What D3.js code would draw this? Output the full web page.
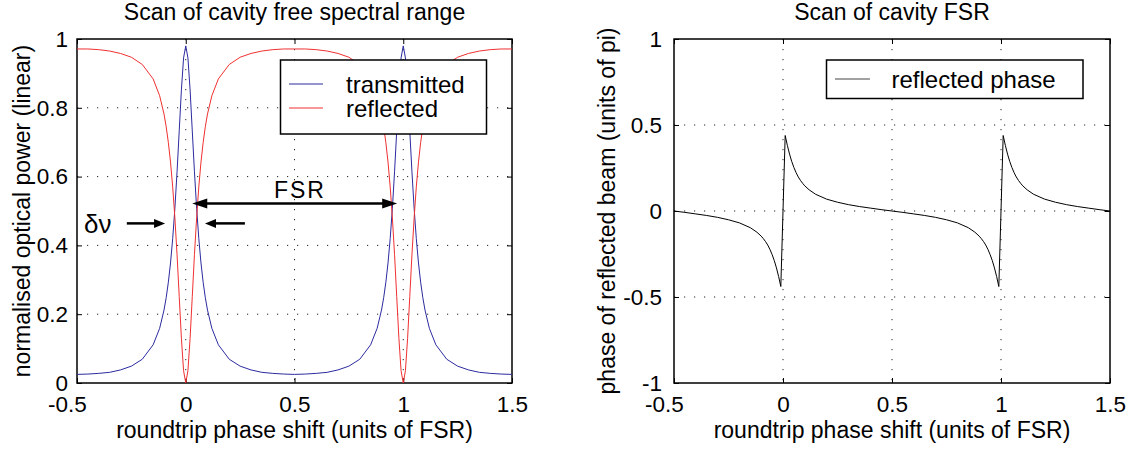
<!DOCTYPE html>
<html><head><meta charset="utf-8">
<script src="https://cdn.jsdelivr.net/npm/d3@7"></script>
<style>
body{margin:0;background:#fff;}
svg text{font-family:"Liberation Sans",Arial,Helvetica,sans-serif;fill:#000;}
</style>
</head><body>
<svg id="chart" width="1148" height="450"></svg>
<script>
// ---------------- data ----------------
const phaseShift = [-0.5,-0.45,-0.4,-0.35,-0.3,-0.25,-0.2,-0.15,-0.12,-0.1,-0.09,-0.08,-0.07,-0.06,-0.05,-0.04,-0.03,-0.02,-0.01,0,
  0.01,0.02,0.03,0.04,0.05,0.06,0.07,0.08,0.09,0.1,0.12,0.15,0.2,0.25,0.3,0.35,0.4,0.45,0.5,
  0.55,0.6,0.65,0.7,0.75,0.8,0.85,0.88,0.9,0.91,0.92,0.93,0.94,0.95,0.96,0.97,0.98,0.99,1,
  1.01,1.02,1.03,1.04,1.05,1.06,1.07,1.08,1.09,1.1,1.12,1.15,1.2,1.25,1.3,1.35,1.4,1.45,1.5];
const transmitted = [0.025,0.026,0.028,0.031,0.038,0.049,0.069,0.111,0.159,0.212,0.248,0.293,0.349,0.420,0.508,0.614,0.733,0.852,0.945,0.980,
  0.945,0.852,0.733,0.614,0.508,0.420,0.349,0.293,0.248,0.212,0.159,0.111,0.069,0.049,0.038,0.031,0.028,0.026,0.025,
  0.026,0.028,0.031,0.038,0.049,0.069,0.111,0.159,0.212,0.248,0.293,0.349,0.420,0.508,0.614,0.733,0.852,0.945,0.980,
  0.945,0.852,0.733,0.614,0.508,0.420,0.349,0.293,0.248,0.212,0.159,0.111,0.069,0.049,0.038,0.031,0.028,0.026,0.025];
const reflected = [0.971,0.971,0.969,0.965,0.958,0.947,0.926,0.884,0.835,0.782,0.745,0.699,0.642,0.570,0.480,0.373,0.251,0.130,0.036,0.000,
  0.036,0.130,0.251,0.373,0.480,0.570,0.642,0.699,0.745,0.782,0.835,0.884,0.926,0.947,0.958,0.965,0.969,0.971,0.971,
  0.971,0.969,0.965,0.958,0.947,0.926,0.884,0.835,0.782,0.745,0.699,0.642,0.570,0.480,0.373,0.251,0.130,0.036,0.000,
  0.036,0.130,0.251,0.373,0.480,0.570,0.642,0.699,0.745,0.782,0.835,0.884,0.926,0.947,0.958,0.965,0.969,0.971,0.971];

const phaseX = [-0.5,-0.45,-0.4,-0.35,-0.3,-0.25,-0.2,-0.15,-0.12,-0.1,-0.09,-0.08,-0.07,-0.06,-0.05,-0.04,-0.03,-0.02,-0.01,
  0.01,0.02,0.03,0.04,0.05,0.06,0.07,0.08,0.09,0.1,0.12,0.15,0.2,0.25,0.3,0.35,0.4,0.45,0.5,
  0.55,0.6,0.65,0.7,0.75,0.8,0.85,0.88,0.9,0.91,0.92,0.93,0.94,0.95,0.96,0.97,0.98,0.99,
  1.01,1.02,1.03,1.04,1.05,1.06,1.07,1.08,1.09,1.1,1.12,1.15,1.2,1.25,1.3,1.35,1.4,1.45,1.5];
const reflectedPhase = [0,-0.008,-0.017,-0.026,-0.037,-0.051,-0.069,-0.097,-0.123,-0.146,-0.161,-0.178,-0.198,-0.223,-0.253,-0.288,-0.331,-0.381,-0.439,
  0.439,0.381,0.331,0.288,0.253,0.223,0.198,0.178,0.161,0.146,0.123,0.097,0.069,0.051,0.037,0.026,0.017,0.008,0,
  -0.008,-0.017,-0.026,-0.037,-0.051,-0.069,-0.097,-0.123,-0.146,-0.161,-0.178,-0.198,-0.223,-0.253,-0.288,-0.331,-0.381,-0.439,
  0.439,0.381,0.331,0.288,0.253,0.223,0.198,0.178,0.161,0.146,0.123,0.097,0.069,0.051,0.037,0.026,0.017,0.008,0];

const xTicks = [-0.5,0,0.5,1,1.5];
const xTickLabels = ["-0.5","0","0.5","1","1.5"];
const yTicksPower = [0,0.2,0.4,0.6,0.8,1];
const yTickLabelsPower = ["0","0.2","0.4","0.6","0.8","1"];
const yTicksPhase = [-1,-0.5,0,0.5,1];
const yTickLabelsPhase = ["-1","-0.5","0","0.5","1"];

const seriesNamesLeft = ["transmitted","reflected"];
const seriesNamesRight = ["reflected phase"];

// annotation anchors (data units of the left panel)
const fsrArrowX = [0.03, 0.972];
const fsrArrowY = 0.522;
const fsrLabelPos = [0.525, 0.537];
const dnuLabelPos = [-0.468, 0.437];
const dnuArrowLeft = [-0.271, -0.095];
const dnuArrowRight = [0.272, 0.0885];
const dnuArrowY = 0.464;

// ---------------- drawing ----------------
const svg = d3.select("#chart");
const BLUE = "#2b2ba0", RED = "#f03030";

function panel(opt){
  const {x0,x1,y0,y1,xDomain,yDomain,yTicks,yLabels,yPad,title,xLabel,yLabel,yLabelX} = opt;
  const x = d3.scaleLinear().domain(xDomain).range([x0,x1]);
  const y = d3.scaleLinear().domain(yDomain).range([y1,y0]);
  const g = svg.append("g");

  // dotted grid
  const grid = g.append("g").attr("stroke","#222").attr("stroke-width",1).attr("stroke-dasharray","1.2,8.8");
  xTicks.slice(1,-1).forEach(t=>{
    grid.append("line").attr("x1",x(t)).attr("x2",x(t)).attr("y1",y0).attr("y2",y1);
  });
  yTicks.slice(1,-1).forEach(t=>{
    grid.append("line").attr("x1",x0).attr("x2",x1).attr("y1",y(t)).attr("y2",y(t));
  });

  const style = sel => { sel.select(".domain").remove();
    sel.selectAll("text").attr("font-size",22.5).attr("font-family","Liberation Sans, Arial, sans-serif");
    sel.selectAll("line").attr("stroke","#000"); };

  g.append("g").attr("transform",`translate(0,${y1})`)
    .call(d3.axisBottom(x).tickValues(xTicks).tickFormat((d,i)=>xTickLabels[i]).tickSize(-5).tickPadding(13))
    .call(style)
    .call(s=>s.selectAll("text").attr("dx",(d,i)=>xTickLabels[i].startsWith("-")?-10:0));
  g.append("g").attr("transform",`translate(0,${y0})`)
    .call(d3.axisTop(x).tickValues(xTicks).tickFormat("").tickSize(-5)).call(style);
  g.append("g").attr("transform",`translate(${x0},0)`)
    .call(d3.axisLeft(y).tickValues(yTicks).tickFormat((d,i)=>yLabels[i]).tickSize(-5).tickPadding(yPad))
    .call(style);
  g.append("g").attr("transform",`translate(${x1},0)`)
    .call(d3.axisRight(y).tickValues(yTicks).tickFormat("").tickSize(-5)).call(style);

  g.append("rect").attr("x",x0).attr("y",y0).attr("width",x1-x0).attr("height",y1-y0)
    .attr("fill","none").attr("stroke","#000").attr("stroke-width",1.5);

  g.append("text").attr("x",(x0+x1)/2).attr("y",20).attr("text-anchor","middle")
    .attr("font-size",23).text(title);
  g.append("text").attr("x",(x0+x1)/2).attr("y",438).attr("text-anchor","middle")
    .attr("font-size",23).text(xLabel);
  g.append("text").attr("transform",`translate(${yLabelX},${(y0+y1)/2}) rotate(-90)`)
    .attr("text-anchor","middle").attr("font-size",23).text(yLabel);
  return {g,x,y};
}

// ---- left panel ----
const L = panel({x0:77,x1:512,y0:39,y1:383,xDomain:[-0.5,1.5],yDomain:[0,1],
  yTicks:yTicksPower,yLabels:yTickLabelsPower,yPad:9,
  title:"Scan of cavity free spectral range",
  xLabel:"roundtrip phase shift (units of FSR)",
  yLabel:"normalised optical power (linear)", yLabelX:30});

const lineL = d3.line().x((d,i)=>L.x(phaseShift[i])).y(d=>L.y(d));
L.g.append("path").datum(transmitted).attr("d",lineL).attr("fill","none").attr("stroke",BLUE).attr("stroke-width",1);
L.g.append("path").datum(reflected).attr("d",lineL).attr("fill","none").attr("stroke",RED).attr("stroke-width",1);

// arrows
function head(g,tx,ty,dir,len,hw){
  g.append("path").attr("d",`M${tx},${ty}L${tx-dir*len},${ty-hw}L${tx-dir*len},${ty+hw}Z`).attr("fill","#000");
}
function arrow(g,xs,xe,yy,len,hw,both){
  const ax=L.x(xs), bx=L.x(xe), py=L.y(yy);
  const dir = bx>ax?1:-1;
  g.append("line").attr("x1",both?ax+dir*len*0.8:ax).attr("x2",bx-dir*len*0.8).attr("y1",py).attr("y2",py)
    .attr("stroke","#000").attr("stroke-width",2.5);
  head(g,bx,py,dir,len,hw);
  if(both) head(g,ax,py,-dir,len,hw);
}
arrow(L.g,fsrArrowX[0],fsrArrowX[1],fsrArrowY,15,5,true);
arrow(L.g,dnuArrowLeft[0],dnuArrowLeft[1],dnuArrowY,11,4.5,false);
arrow(L.g,dnuArrowRight[0],dnuArrowRight[1],dnuArrowY,11,4.5,false);
L.g.append("text").attr("x",L.x(fsrLabelPos[0])).attr("y",L.y(fsrLabelPos[1])).attr("text-anchor","middle")
  .attr("font-family","Liberation Serif, Times New Roman, serif").attr("font-size",23).attr("letter-spacing",2)
  .attr("font-weight",300).text("FSR");
L.g.append("text").attr("x",L.x(dnuLabelPos[0])).attr("y",L.y(dnuLabelPos[1]))
  .attr("font-family","Liberation Serif, Times New Roman, serif").attr("font-size",26).text("δν");

// legend left
const legL = L.g.append("g");
legL.append("rect").attr("x",280.5).attr("y",60).attr("width",206).attr("height",74)
  .attr("fill","#fff").attr("stroke","#000").attr("stroke-width",1.5);
[BLUE,RED].forEach((c,i)=>{
  const yy = 84 + i*24;
  legL.append("line").attr("x1",289).attr("x2",323).attr("y1",yy).attr("y2",yy).attr("stroke",c).attr("stroke-width",1);
  legL.append("text").attr("x",346).attr("y",yy+9).attr("font-size",24).text(seriesNamesLeft[i]);
});

// ---- right panel ----
const R = panel({x0:674,x1:1110,y0:39,y1:383,xDomain:[-0.5,1.5],yDomain:[-1,1],
  yTicks:yTicksPhase,yLabels:yTickLabelsPhase,yPad:12,
  title:"Scan of cavity FSR",
  xLabel:"roundtrip phase shift (units of FSR)",
  yLabel:"phase of reflected beam (units of pi)", yLabelX:615});
const lineR = d3.line().x((d,i)=>R.x(phaseX[i])).y(d=>R.y(d));
R.g.append("path").datum(reflectedPhase).attr("d",lineR).attr("fill","none").attr("stroke","#000").attr("stroke-width",1);

const legR = R.g.append("g");
legR.append("rect").attr("x",826.5).attr("y",60).attr("width",256.5).attr("height",38.5)
  .attr("fill","#fff").attr("stroke","#000").attr("stroke-width",1.5);
legR.append("line").attr("x1",835).attr("x2",870).attr("y1",79).attr("y2",79).attr("stroke","#444").attr("stroke-width",1);
legR.append("text").attr("x",891.5).attr("y",88).attr("font-size",24).text(seriesNamesRight[0]);
</script>
</body></html>
